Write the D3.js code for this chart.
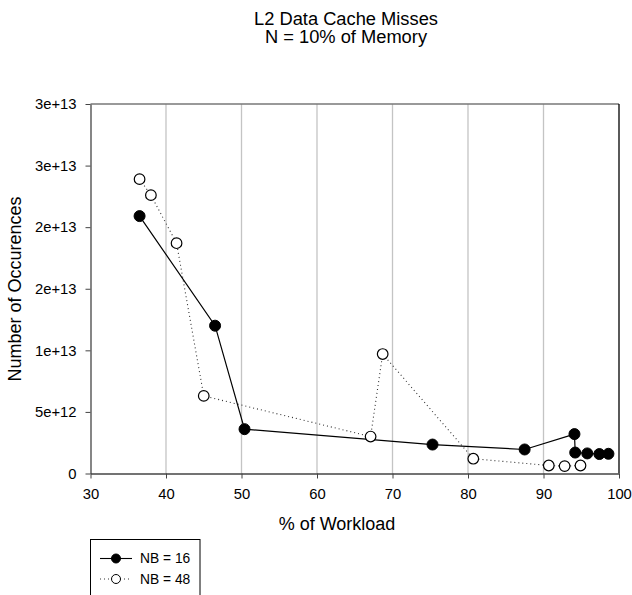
<!DOCTYPE html>
<html>
<head>
<meta charset="utf-8">
<script src="https://cdn.jsdelivr.net/npm/d3@7"></script>
<style>
  body { margin: 0; background: #fff; }
  text { font-family: "Liberation Sans", Arial, sans-serif; fill: #000; }
</style>
</head>
<body>
<svg id="chart" width="632" height="595"></svg>
<script>
// values
var xNB16 = [36.5, 46.5, 50.4, 75.3, 87.5, 94.1, 94.2, 95.8, 97.4, 98.6];
var yNB16 = [2.09e13, 1.20e13, 3.6e12, 2.35e12, 1.95e12, 3.2e12, 1.7e12, 1.63e12, 1.58e12, 1.6e12];
var xNB48 = [36.5, 38.0, 41.4, 45.0, 67.1, 68.7, 80.7, 90.7, 92.8, 94.9];
var yNB48 = [2.39e13, 2.26e13, 1.87e13, 6.3e12, 3.0e12, 9.7e12, 1.2e12, 6.5e11, 6.0e11, 6.5e11];

var xTicks = [30, 40, 50, 60, 70, 80, 90, 100];
var yTicks = [0, 5e12, 1e13, 1.5e13, 2e13, 2.5e13, 3e13];
var yTickLabels = ["0", "5e+12", "1e+13", "2e+13", "2e+13", "3e+13", "3e+13"];
var seriesNames = ["NB = 16", "NB = 48"];

var svg = d3.select("#chart");
var plotL = 90.5, plotR = 619, plotT = 104, plotB = 473.5;

var x = d3.scaleLinear().domain([30, 100]).range([plotL, plotR]);
var y = d3.scaleLinear().domain([0, 3e13]).range([plotB, plotT]);

// title, two separate lines
svg.selectAll(".title")
  .data(["L2 Data Cache Misses", "N = 10% of Memory"])
  .enter().append("text")
  .attr("class", "title")
  .attr("x", 346)
  .attr("y", (d, i) => 24.5 + i * 18)
  .attr("text-anchor", "middle")
  .style("font-size", "18.3px")
  .text(d => d);

// vertical grid lines
svg.append("g").selectAll("line")
  .data(xTicks.slice(1, -1))
  .enter().append("line")
  .attr("x1", d => x(d)).attr("x2", d => x(d))
  .attr("y1", plotT).attr("y2", plotB)
  .attr("stroke", "#c4c4c4")
  .attr("stroke-width", 1.3);

// frame: top gray, right black
svg.append("line").attr("x1", plotL).attr("x2", plotR).attr("y1", plotT).attr("y2", plotT)
  .attr("stroke", "#777").attr("stroke-width", 1.3);
svg.append("line").attr("x1", plotR).attr("x2", plotR).attr("y1", plotT).attr("y2", plotB)
  .attr("stroke", "#000").attr("stroke-width", 1.3);

// axes
var xAxis = d3.axisBottom(x).tickValues(xTicks).tickSize(5).tickSizeOuter(0).tickPadding(10);
var gx = svg.append("g").attr("transform", "translate(0," + plotB + ")").call(xAxis);
gx.select(".domain").attr("stroke", "#444").attr("stroke-width", 1.3);
gx.selectAll(".tick line").attr("stroke", "#444");
gx.selectAll("text").style("font-size", "14.8px").attr("fill", "#000");

var yAxis = d3.axisLeft(y).tickValues(yTicks).tickSize(5).tickSizeOuter(0).tickPadding(9)
  .tickFormat((d, i) => yTickLabels[i]);
var gy = svg.append("g").attr("transform", "translate(" + plotL + ",0)").call(yAxis);
gy.select(".domain").attr("stroke", "#444").attr("stroke-width", 1.3);
gy.selectAll(".tick line").attr("stroke", "#444");
gy.selectAll("text").style("font-size", "14.8px").attr("fill", "#000");

// axis titles
svg.append("text")
  .attr("x", 337).attr("y", 530)
  .attr("text-anchor", "middle")
  .style("font-size", "18px")
  .text("% of Workload");

svg.append("text")
  .attr("transform", "translate(21,289) rotate(-90)")
  .attr("text-anchor", "middle")
  .style("font-size", "18px")
  .text("Number of Occurences");

// lines
var line = d3.line().x(d => x(d[0])).y(d => y(d[1]));
var pts16 = d3.zip(xNB16, yNB16);
var pts48 = d3.zip(xNB48, yNB48);

svg.append("path").datum(pts48)
  .attr("d", line)
  .attr("fill", "none")
  .attr("stroke", "#333")
  .attr("stroke-width", 1.1)
  .attr("stroke-dasharray", "1,3");

svg.append("path").datum(pts16)
  .attr("d", line)
  .attr("fill", "none")
  .attr("stroke", "#000")
  .attr("stroke-width", 1.2);

// markers
svg.append("g").selectAll("circle")
  .data(pts48)
  .enter().append("circle")
  .attr("cx", d => x(d[0])).attr("cy", d => y(d[1]))
  .attr("r", 5.3)
  .attr("fill", "#fff")
  .attr("stroke", "#000")
  .attr("stroke-width", 1.2);

svg.append("g").selectAll("circle")
  .data(pts16)
  .enter().append("circle")
  .attr("cx", d => x(d[0])).attr("cy", d => y(d[1]))
  .attr("r", 5.5)
  .attr("fill", "#000")
  .attr("stroke", "#000")
  .attr("stroke-width", 1);

// legend
var legend = svg.append("g");
legend.append("rect")
  .attr("x", 90.5).attr("y", 539.5)
  .attr("width", 109.5).attr("height", 70)
  .attr("fill", "#fff")
  .attr("stroke", "#000")
  .attr("stroke-width", 1);

var legRows = legend.selectAll(".row")
  .data(seriesNames)
  .enter().append("g")
  .attr("class", "row")
  .attr("transform", (d, i) => "translate(0," + (558.5 + i * 20.5) + ")");

legRows.append("line")
  .attr("x1", 100).attr("x2", 132)
  .attr("stroke", (d, i) => i ? "#333" : "#000")
  .attr("stroke-width", 1.1)
  .attr("stroke-dasharray", (d, i) => i ? "1,3" : null);

legRows.append("circle")
  .attr("cx", 116).attr("r", 4.5)
  .attr("fill", (d, i) => i ? "#fff" : "#000")
  .attr("stroke", "#000")
  .attr("stroke-width", 1);

legRows.append("text")
  .attr("x", 140).attr("y", 4.8)
  .style("font-size", "13.8px")
  .text(d => d);
</script>
</body>
</html>
